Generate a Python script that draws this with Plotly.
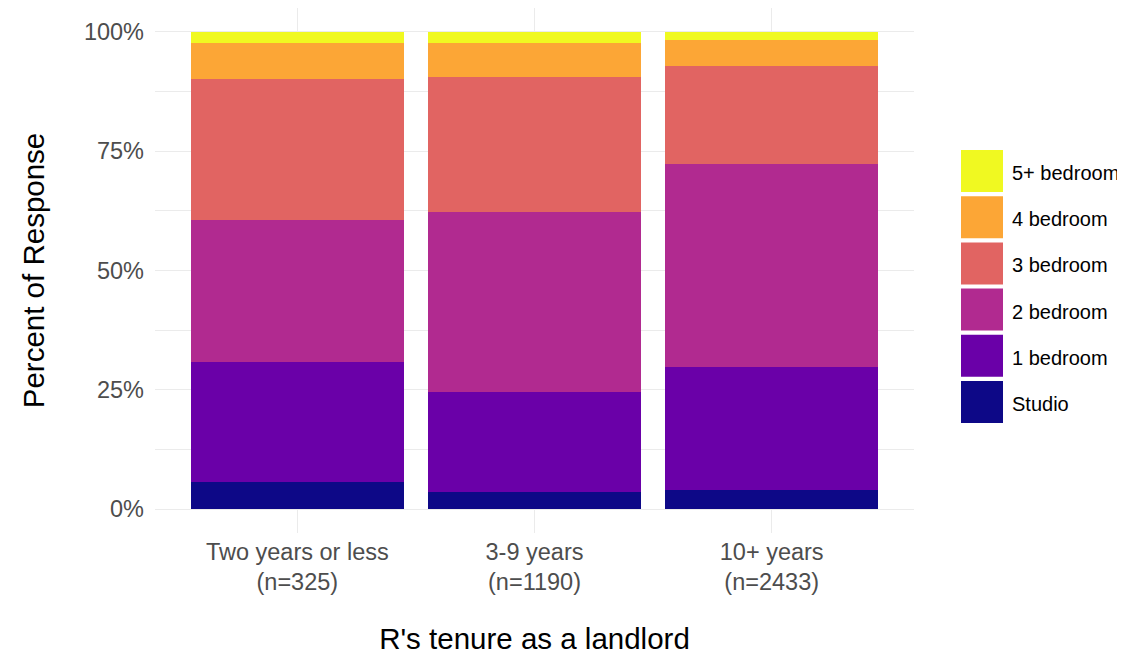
import plotly.graph_objects as go

categories = ["Two years or less<br>(n=325)", "3-9 years<br>(n=1190)", "10+ years<br>(n=2433)"]
series_names = ["Studio", "1 bedroom", "2 bedroom", "3 bedroom", "4 bedroom", "5+ bedroom"]
studio = [5.6, 3.6, 4.1]
bed1 = [25.2, 21.0, 25.6]
bed2 = [29.8, 37.7, 42.6]
bed3 = [29.5, 28.2, 20.5]
bed4 = [7.6, 7.2, 5.5]
bed5 = [2.3, 2.3, 1.7]
series_values = [studio, bed1, bed2, bed3, bed4, bed5]
colors = ["#0D0887", "#6A00A8", "#B12A90", "#E16462", "#FCA636", "#F0F921"]
y_ticks = [0, 25, 50, 75, 100]
y_tick_labels = ["0%", "25%", "50%", "75%", "100%"]

# page offset of 8px (browser body margin) is compensated here
OFF = 8
W, H = 1125 - OFF, 655 - OFF
L, R, T, B = 155 - OFF, 211, 0, 122
FONT = "Liberation Sans, Arial, sans-serif"

fig = go.Figure()
for name, vals, col in zip(series_names, series_values, colors):
    fig.add_trace(go.Bar(x=categories, y=vals, name=name, marker=dict(color=col, line=dict(width=0)),
                         width=0.9, showlegend=False))

# manual legend (ggplot-style big keys), positions given in page pixels
pw, ph = W - L - R, H - T - B
def px(x):
    return (x - OFF - L) / pw
def py(y):
    return (H - B - (y - OFF)) / ph

key_x0, key_x1, key_top, key_h, step = 961, 1003, 150, 42, 46.2
for i, (name, col) in enumerate(zip(reversed(series_names), reversed(colors))):
    y0 = key_top + i * step
    fig.add_shape(type="rect", xref="paper", yref="paper",
                  x0=px(key_x0), x1=px(key_x1), y0=py(y0 + key_h), y1=py(y0),
                  fillcolor=col, line=dict(width=0))
    fig.add_annotation(xref="paper", yref="paper", x=px(1010), y=py(y0 + key_h / 2 + 2),
                       text=name, showarrow=False, xanchor="left", yanchor="middle",
                       font=dict(family=FONT, size=20, color="#000000"))

fig.update_layout(
    width=W, height=H, barmode="stack",
    margin=dict(l=L, r=R, t=T, b=B),
    plot_bgcolor="white", paper_bgcolor="white",
    font=dict(family=FONT),
    xaxis=dict(showgrid=True, gridcolor="#EBEBEB", gridwidth=1.2, zeroline=False,
               tickfont=dict(size=23.5, color="#4D4D4D"), ticks="", ticklabelstandoff=2,
               range=[-0.6, 2.6],
               title=dict(text="R's tenure as a landlord", font=dict(size=29.5, color="#000000"), standoff=36)),
    yaxis=dict(range=[-5, 105], tickvals=y_ticks, ticktext=y_tick_labels,
               showgrid=True, gridcolor="#EBEBEB", gridwidth=1.2, zeroline=False,
               tickfont=dict(size=23.5, color="#4D4D4D"), ticks="", ticklabelstandoff=10,
               minor=dict(dtick=12.5, tick0=0, showgrid=True, gridcolor="#EBEBEB", gridwidth=0.6),
               title=dict(text="Percent of Response", font=dict(size=29.5, color="#000000"), standoff=30)),
)

fig.write_html("out.html")
